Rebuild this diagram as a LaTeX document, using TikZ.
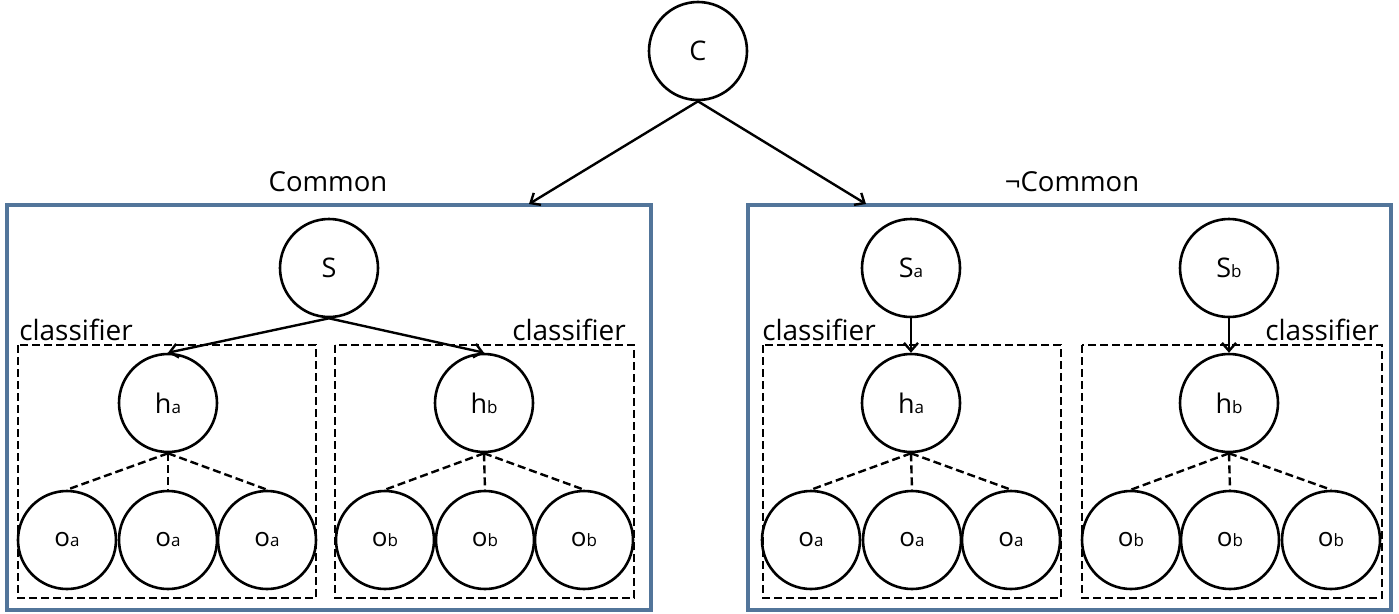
\documentclass[tikz,border=0pt]{standalone}
\usepackage{fontspec}
\setmainfont{Open Sans}
\usetikzlibrary{arrows.meta}
\definecolor{panelblue}{HTML}{52759A}
\newcommand\nlab[2]{{\fontsize{27}{30}\selectfont #1}{\fontsize{17}{20}\selectfont #2}}
\begin{document}
\begin{tikzpicture}[x=1pt,y=-1pt,
  var/.style={draw,circle,line width=2.6pt,minimum size=98pt,inner sep=0pt},
  panel/.style={draw=panelblue,line width=3.6pt},
  clbox/.style={draw,line width=2.4pt,dash pattern=on 8pt off 4pt},
  edge/.style={line width=2.4pt,-{Straight Barb[length=8pt,width=14pt,line width=2.4pt]}},
  dedge/.style={line width=2.4pt,dash pattern=on 8pt off 4pt},
  ttl/.style={font=\fontsize{27.5}{30}\selectfont,anchor=base},
  cls/.style={font=\fontsize{28}{30}\selectfont,anchor=base}]
\useasboundingbox (0,0) rectangle (1399,613);
% panels
\draw[panel] (7,205) rectangle (651,610);
\draw[panel] (748,205) rectangle (1391,610);
\node[ttl] (tcommon) at (328,191) {Common};
\node[ttl] (tncommon) at (1072,191) {¬Common};
% classifier boxes
\draw[clbox] (18,345) rectangle (316,598);
\draw[clbox] (335,345) rectangle (634,598);
\draw[clbox] (763,345) rectangle (1061,598);
\draw[clbox] (1082,345) rectangle (1382,598);
\node[cls] (cl1) at (76,340) {classifier};
\node[cls] (cl2) at (569,340) {classifier};
\node[cls] (cl3) at (819,340) {classifier};
\node[cls] (cl4) at (1322,340) {classifier};
% nodes
\node[var] (C) at (698,51) {\nlab{C}{}};
\node[var] (S) at (329,268) {\nlab{S}{}};
\node[var] (Sa) at (911,268) {\nlab{S}{a}};
\node[var] (Sb) at (1229,268) {\nlab{S}{b}};
\node[var] (ha1) at (168,403) {\nlab{h}{a}};
\node[var] (hb1) at (484,403) {\nlab{h}{b}};
\node[var] (ha2) at (911,403) {\nlab{h}{a}};
\node[var] (hb2) at (1229,403) {\nlab{h}{b}};
\foreach \n/\x/\s in {oa1/67/a,oa2/168/a,oa3/267/a,ob1/385/b,ob2/485/b,ob3/584/b,
                      oa4/811/a,oa5/912/a,oa6/1011/a,ob4/1131/b,ob5/1230/b,ob6/1331/b}
  \node[var] (\n) at (\x,540) {{\fontsize{26}{28}\selectfont o}{\fontsize{17}{20}\selectfont \s}};
% arrows
\coordinate (tipL) at (529,204);
\coordinate (tipR) at (866,204);
\draw[edge] (C.south) -- (tipL);
\draw[edge] (C.south) -- (tipR);
\draw[edge] (S.south) -- (ha1.north);
\draw[edge] (S.south) -- (hb1.north);
\draw[edge] (Sa.south) -- (ha2.north);
\draw[edge] (Sb.south) -- (hb2.north);
% dashed links
\foreach \h/\a/\b/\c in {ha1/oa1/oa2/oa3,hb1/ob1/ob2/ob3,ha2/oa4/oa5/oa6,hb2/ob4/ob5/ob6}{
  \draw[dedge] (\h.south) -- (\a.north);
  \draw[dedge] (\h.south) -- (\b.north);
  \draw[dedge] (\h.south) -- (\c.north);
}
\end{tikzpicture}
\end{document}
